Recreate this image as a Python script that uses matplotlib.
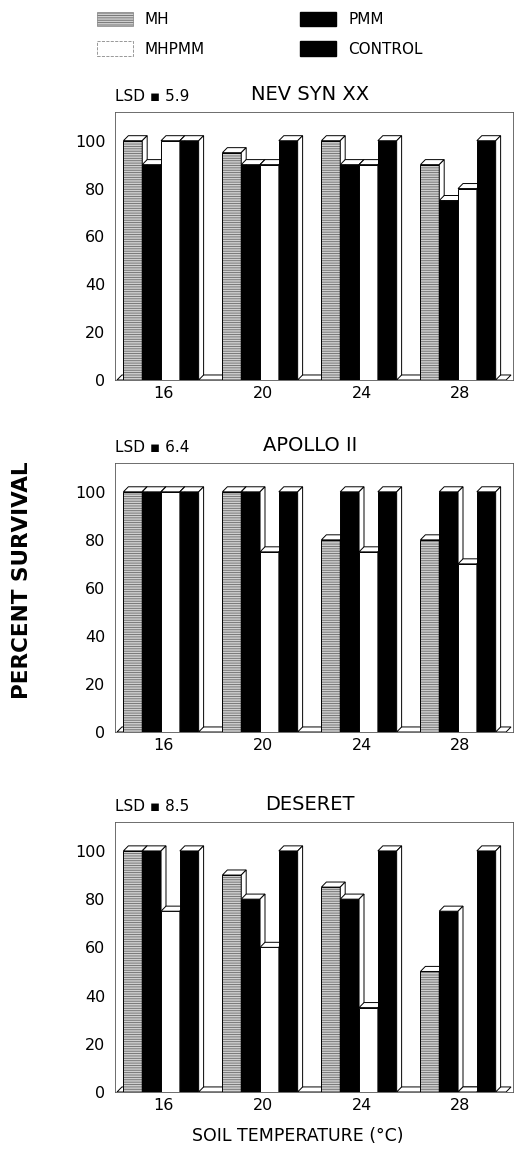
import numpy as np
import matplotlib
matplotlib.use("Agg")
import matplotlib.pyplot as plt
from matplotlib.patches import Polygon, Rectangle, Patch

plt.rcParams['font.family'] = ['DejaVu Sans']
plt.rcParams['hatch.linewidth'] = 0.6

# data
temps = ['16', '20', '24', '28']
series = ['MH', 'PMM', 'MHPMM', 'CONTROL']
cultivars = ['NEV SYN XX', 'APOLLO II', 'DESERET']
lsd_values = ['5.9', '6.4', '8.5']

nev_mh = [100, 95, 100, 90]
nev_pmm = [90, 90, 90, 75]
nev_mhpmm = [100, 90, 90, 80]
nev_control = [100, 100, 100, 100]

apollo_mh = [100, 100, 80, 80]
apollo_pmm = [100, 100, 100, 100]
apollo_mhpmm = [100, 75, 75, 70]
apollo_control = [100, 100, 100, 100]

deseret_mh = [100, 90, 85, 50]
deseret_pmm = [100, 80, 80, 75]
deseret_mhpmm = [75, 60, 35, 0]
deseret_control = [100, 100, 100, 100]

panels = [
    [nev_mh, nev_pmm, nev_mhpmm, nev_control],
    [apollo_mh, apollo_pmm, apollo_mhpmm, apollo_control],
    [deseret_mh, deseret_pmm, deseret_mhpmm, deseret_control],
]

# styles per series: (facecolor, hatch)
styles = {
    'MH': ('#cfcfcf', '-------'),
    'PMM': ('black', None),
    'MHPMM': ('white', None),
    'CONTROL': ('black', None),
}

W, H = 518, 1160
fig = plt.figure(figsize=(W / 100, H / 100), dpi=100)


def px_axes(left, top, right, bottom):
    return fig.add_axes([left / W, 1 - bottom / H, (right - left) / W, (bottom - top) / H])


bw = 0.19      # bar width (group units)
dx = 0.05      # 3d depth offset x
dy = 2.1       # 3d depth offset y (percent units)
lw = 0.7


def bar3d(ax, x, h, face, hatch, z):
    if hatch:
        ax.add_patch(Rectangle((x, 0), bw, h, facecolor=face, edgecolor='#6a6a6a',
                               hatch=hatch, linewidth=0, zorder=z))
        ax.add_patch(Rectangle((x, 0), bw, h, facecolor='none', edgecolor='black',
                               linewidth=lw, zorder=z + 0.1))
    else:
        ax.add_patch(Rectangle((x, 0), bw, h, facecolor=face, edgecolor='black',
                               linewidth=lw, zorder=z))
    top = [(x, h), (x + bw, h), (x + bw + dx, h + dy), (x + dx, h + dy)]
    side = [(x + bw, 0), (x + bw + dx, dy), (x + bw + dx, h + dy), (x + bw, h)]
    ax.add_patch(Polygon(top, closed=True, facecolor='white', edgecolor='black',
                         linewidth=lw, zorder=z + 0.2))
    ax.add_patch(Polygon(side, closed=True, facecolor='white', edgecolor='black',
                         linewidth=lw, zorder=z + 0.2))


panel_px = [(112, 380), (463, 732), (822, 1092)]
xl, xr = -0.465, 3.555

for p, (vals, (ptop, pbot)) in enumerate(zip(panels, panel_px)):
    ax = px_axes(115, ptop, 513, pbot)
    ax.set_xlim(xl, xr)
    ax.set_ylim(0, 112)

    # floor slab
    floor = [(xl + 0.02, 0), (xr - dx - 0.02, 0), (xr - 0.02, dy), (xl + 0.02 + dx, dy)]
    ax.add_patch(Polygon(floor, closed=True, facecolor='white', edgecolor='black',
                         linewidth=lw, zorder=1))

    z = 2
    for g in range(len(temps)):
        for i, name in enumerate(series):
            face, hatch = styles[name]
            x = g + (i - 2) * bw
            bar3d(ax, x, vals[i][g], face, hatch, z)
            z += 1

    ax.set_yticks(range(0, 101, 20))
    ax.set_xticks(np.arange(len(temps)) + dx / 2)
    ax.set_xticklabels(temps)
    ax.tick_params(length=0, labelsize=11.5)
    ax.tick_params(axis='y', pad=7)
    ax.tick_params(axis='x', pad=4)
    for s in ax.spines.values():
        s.set_linewidth(0.6)
        s.set_color('#555555')

    ax.text(0.0, 1.03, 'LSD \u25aa ' + lsd_values[p], transform=ax.transAxes,
            fontsize=11, ha='left', va='bottom')
    ax.text(0.49, 1.03, cultivars[p], transform=ax.transAxes,
            fontsize=14, ha='center', va='bottom')

fig.text(22 / W, 1 - 580 / H, 'PERCENT SURVIVAL', rotation=90, fontsize=15.5,
         fontweight='bold', ha='center', va='center')
fig.text(298 / W, 1 - 1136 / H, 'SOIL TEMPERATURE (\u00b0C)', fontsize=12.5,
         ha='center', va='center')

handles = [
    Patch(facecolor=styles['MH'][0], edgecolor='#6a6a6a', hatch=styles['MH'][1],
          linewidth=0.4, label='MH'),
    Patch(facecolor='white', edgecolor='#888888', linestyle='--', linewidth=0.6,
          label='MHPMM'),
    Patch(facecolor='black', edgecolor='black', label='PMM'),
    Patch(facecolor='black', edgecolor='black', label='CONTROL'),
]
fig.legend(handles=handles, loc='upper left', bbox_to_anchor=(83 / W, 1 + 2 / H),
           ncol=2, frameon=False, fontsize=11, handlelength=2.35, handleheight=1.1,
           columnspacing=6.25, labelspacing=0.9, handletextpad=0.8)

fig.savefig('out.png', dpi=100)
